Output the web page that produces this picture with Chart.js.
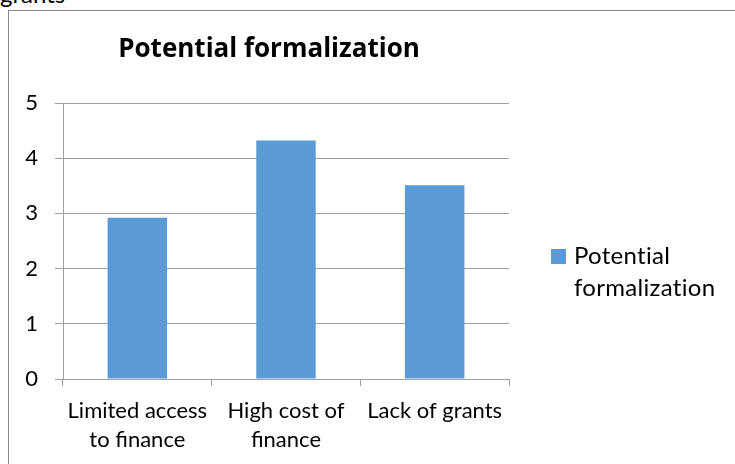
<!DOCTYPE html>
<html>
<head>
<meta charset="utf-8">
<script src="https://cdn.jsdelivr.net/npm/chart.js@4.4.1/dist/chart.umd.min.js"></script>
<style>
    html, body { margin: 0; padding: 0; background: #fff; overflow: hidden; }
    #wrap { position: relative; width: 735px; height: 464px; overflow: hidden; }
    #frame { position: absolute; left: 8px; top: 10px; width: 800px; height: 500px; border: 1px solid #8a8a8a; }
    #above { position: absolute; left: 0; top: -18px; font: 24px Lato, sans-serif; line-height: 24px; color: #000; }
    #chart { position: absolute; left: 0; top: 0; }
</style>
</head>
<body>
<div id="wrap">
    <div id="above">grants</div>
    <div id="frame"></div>
    <canvas id="chart" width="735" height="464"></canvas>
</div>
<script>
// Survey results: perceived obstacles
var chartTitle = 'Potential formalization';
var seriesName = 'Potential formalization';
var categories = [
    ['Limited access', 'to finance'],
    ['High cost of', 'finance'],
    ['Lack of grants']
];
var seriesValues = [2.92, 4.32, 3.51];
var yTicks = [0, 1, 2, 3, 4, 5];

var barColor = '#5B9BD5';
var gridColor = '#a0a0a0';
var fontFamily = 'Lato, sans-serif';

// Title drawn centred over the plot
var titlePlugin = {
    id: 'titleText',
    afterDraw: function (chart) {
        var ctx = chart.ctx;
        ctx.save();
        ctx.font = 'bold 26px "Open Sans", sans-serif';
        ctx.fillStyle = '#000';
        ctx.textAlign = 'center';
        ctx.textBaseline = 'alphabetic';
        ctx.fillText(chartTitle, 269, 57);
        ctx.restore();
    }
};

// Legend on the right, label wrapped onto two lines
var sideLegend = {
    id: 'sideLegend',
    afterDraw: function (chart) {
        var ctx = chart.ctx;
        var ds = chart.data.datasets[0];
        ctx.save();
        ctx.fillStyle = ds.backgroundColor;
        ctx.fillRect(551, 249, 15, 15);
        ctx.font = '24px ' + fontFamily;
        ctx.letterSpacing = '0.3px'; // keeps "ti" from joining
        ctx.fillStyle = '#000';
        ctx.textAlign = 'left';
        ctx.textBaseline = 'alphabetic';
        var words = ds.label.split(' ');
        for (var i = 0; i < words.length; i++) {
            ctx.fillText(words[i], 574, 264 + i * 32);
        }
        ctx.restore();
    }
};

new Chart(document.getElementById('chart').getContext('2d'), {
    type: 'bar',
    data: {
        labels: categories,
        datasets: [{
            label: seriesName,
            data: seriesValues,
            backgroundColor: barColor,
            borderWidth: 0,
            categoryPercentage: 1.0,
            barPercentage: 0.4
        }]
    },
    options: {
        responsive: false,
        animation: false,
        layout: { padding: { left: 0, top: 103, right: 226, bottom: 0 } },
        plugins: {
            legend: { display: false },
            title: { display: false },
            tooltip: { enabled: false }
        },
        scales: {
            x: {
                afterFit: function (scale) { scale.height = 85; },
                grid: {
                    display: true,
                    drawOnChartArea: false,
                    drawTicks: true,
                    tickLength: 7,
                    color: gridColor,
                    offset: true
                },
                border: { display: true, color: gridColor },
                ticks: {
                    color: '#000',
                    padding: 10,
                    maxRotation: 0,
                    autoSkip: false,
                    font: { family: fontFamily, size: 22, lineHeight: '29px' }
                }
            },
            y: {
                min: 0,
                max: 5,
                afterFit: function (scale) { scale.width = 63; },
                afterBuildTicks: function (scale) {
                    scale.ticks = yTicks.map(function (v) { return { value: v }; });
                },
                grid: {
                    color: gridColor,
                    tickLength: 8,
                    drawTicks: true
                },
                border: { display: true, color: gridColor },
                ticks: {
                    color: '#000',
                    padding: 17,
                    font: { family: fontFamily, size: 22 }
                }
            }
        }
    },
    plugins: [titlePlugin, sideLegend]
});
</script>
</body>
</html>
